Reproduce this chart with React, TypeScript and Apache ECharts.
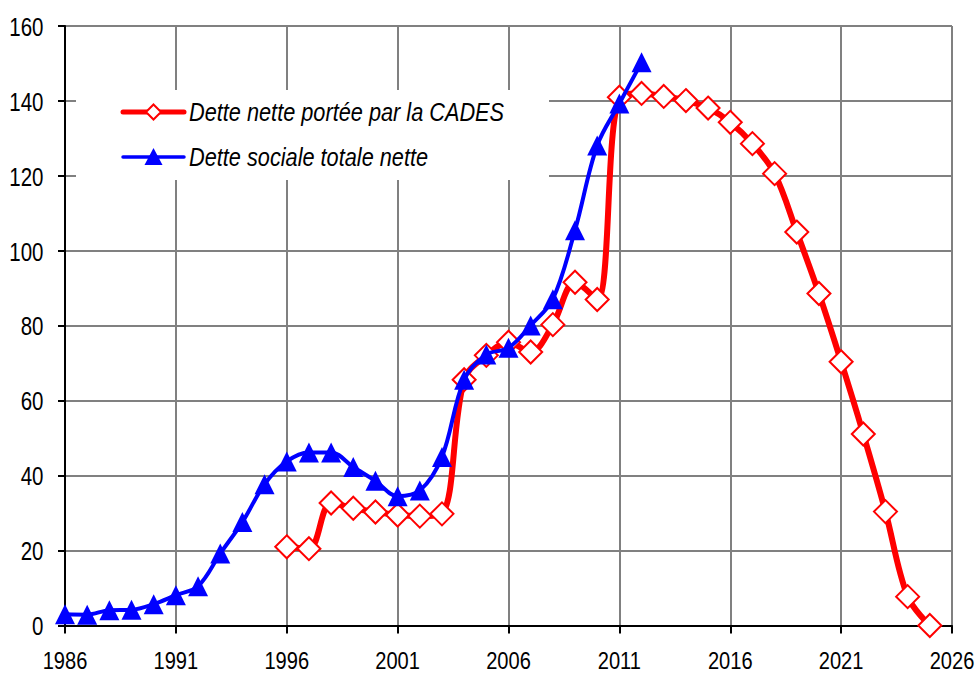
import React, { useEffect, useRef } from "react";
import * as echarts from "echarts";

const years = [
  "1986", "1987", "1988", "1989", "1990", "1991", "1992", "1993", "1994", "1995",
  "1996", "1997", "1998", "1999", "2000", "2001", "2002", "2003", "2004", "2005",
  "2006", "2007", "2008", "2009", "2010", "2011", "2012", "2013", "2014", "2015",
  "2016", "2017", "2018", "2019", "2020", "2021", "2022", "2023", "2024", "2025",
  "2026",
];
const xTickLabels = ["1986", "1991", "1996", "2001", "2006", "2011", "2016", "2021", "2026"];
const yTickLabels = [0, 20, 40, 60, 80, 100, 120, 140, 160];

const cadesName = "Dette nette portée par la CADES";
const cadesFirstYear = "1996";
const cadesValues = [
  21, 20.5, 32.7, 31.3, 30.3, 29.5, 29.2, 29.8, 65.6, 72.1,
  75.6, 73, 80.3, 91.6, 87, 141, 142, 141.2, 140.1, 138.1,
  134.3, 128.6, 120.6, 105, 88.6, 70.4, 51.1, 30.4, 7.7, 0,
];

const detteName = "Dette sociale totale nette";
const detteFirstYear = "1986";
const detteValues = [
  3, 2.9, 4.1, 4.2, 5.7, 8.1, 10.5, 19.2, 27.6, 37.7,
  43.8, 46.2, 46.2, 42.3, 38.6, 34.5, 36, 45, 65.6, 72.3,
  74.1, 80.1, 87.1, 105.5, 128.1, 139.3, 150.3,
];

function align(firstYear: string, values: number[]) {
  const start = years.indexOf(firstYear);
  return years.map((_, i) => {
    const k = i - start;
    return k >= 0 && k < values.length ? values[k] : null;
  });
}

const FONT = "'Liberation Sans', Arial, sans-serif";
const NARROW = 0.82; // emulate Arial Narrow
const GRID = "#808080";
const RED = "#ff0000";
const BLUE = "#0000ff";

export default function App() {
  const ref = useRef<HTMLDivElement>(null);
  useEffect(() => {
    if (!ref.current) return;
    const chart = echarts.init(ref.current, undefined, { renderer: "svg" });
    chart.setOption({
      animation: false,
      backgroundColor: "#fff",
      textStyle: { fontFamily: FONT },
      grid: { left: 65, right: 24, top: 26, bottom: 48.5, containLabel: false },
      xAxis: {
        type: "category",
        data: years,
        boundaryGap: false,
        axisLine: { lineStyle: { color: "#000", width: 2 } },
        axisTick: { interval: 4, length: 8, lineStyle: { color: "#000", width: 2 } },
        axisLabel: { show: false, interval: 4 },
        splitLine: { show: true, interval: 4, lineStyle: { color: GRID, width: 2 } },
      },
      yAxis: {
        type: "value",
        min: 0,
        max: 160,
        interval: 20,
        axisLine: { show: true, lineStyle: { color: "#000", width: 2 } },
        axisTick: { show: true, length: 7, lineStyle: { color: "#000", width: 2 } },
        axisLabel: { show: false },
        splitLine: { show: true, lineStyle: { color: GRID, width: 2 } },
      },
      series: [
        {
          name: cadesName,
          type: "line",
          data: align(cadesFirstYear, cadesValues),
          smooth: 0.35,
          connectNulls: false,
          showAllSymbol: true,
          symbol: "diamond",
          symbolSize: 23,
          lineStyle: { color: RED, width: 6 },
          itemStyle: { color: "#ffffff", borderColor: RED, borderWidth: 2 },
          z: 2,
        },
        {
          name: detteName,
          type: "line",
          data: align(detteFirstYear, detteValues),
          smooth: 0.35,
          connectNulls: false,
          showAllSymbol: true,
          symbol: "triangle",
          symbolSize: 20,
          lineStyle: { color: BLUE, width: 4 },
          itemStyle: { color: BLUE },
          z: 3,
        },
      ],
    });

    const labelStyle = { fontFamily: FONT, fontSize: 24.5, fill: "#000" };
    const graphics: any[] = [];
    xTickLabels.forEach((yr) => {
      const [px, py] = chart.convertToPixel({ xAxisIndex: 0, yAxisIndex: 0 }, [yr, 0]) as number[];
      graphics.push({
        type: "text",
        x: px,
        y: py + 35,
        scaleX: NARROW,
        silent: true,
        style: { ...labelStyle, text: yr, align: "center", verticalAlign: "middle" },
      });
    });
    yTickLabels.forEach((v) => {
      const [px, py] = chart.convertToPixel({ xAxisIndex: 0, yAxisIndex: 0 }, [years[0], v]) as number[];
      graphics.push({
        type: "text",
        x: px - 21.5,
        y: py + 1,
        scaleX: NARROW,
        silent: true,
        style: { ...labelStyle, fontSize: 25, text: String(v), align: "right", verticalAlign: "middle" },
      });
    });

    // Legend box (Excel style, no border)
    const lx = 76, ly = 90, lw = 473, lh = 90;
    const iconX0 = 123, iconX1 = 184, textX = 189;
    const rowY = [112, 157];
    const iconMid = (iconX0 + iconX1) / 2;
    graphics.push({
      type: "rect",
      z: 1,
      silent: true,
      shape: { x: lx, y: ly, width: lw, height: lh },
      style: { fill: "#fff" },
    });
    graphics.push({
      type: "line",
      z: 1,
      silent: true,
      shape: { x1: iconX0, y1: rowY[0], x2: iconX1, y2: rowY[0] },
      style: { stroke: RED, lineWidth: 5, lineCap: "round" },
    });
    graphics.push({
      type: "polygon",
      z: 1,
      silent: true,
      shape: {
        points: [
          [iconMid, rowY[0] - 7.5],
          [iconMid + 7.5, rowY[0]],
          [iconMid, rowY[0] + 7.5],
          [iconMid - 7.5, rowY[0]],
        ],
      },
      style: { fill: "#fff", stroke: RED, lineWidth: 2 },
    });
    graphics.push({
      type: "text",
      z: 1,
      silent: true,
      x: textX,
      y: rowY[0],
      scaleX: NARROW,
      style: {
        text: cadesName,
        fontFamily: FONT,
        fontSize: 26.5,
        fontStyle: "italic",
        fill: "#000",
        align: "left",
        verticalAlign: "middle",
      },
    });
    graphics.push({
      type: "line",
      z: 1,
      silent: true,
      shape: { x1: iconX0, y1: rowY[1], x2: iconX1, y2: rowY[1] },
      style: { stroke: BLUE, lineWidth: 3.5, lineCap: "round" },
    });
    graphics.push({
      type: "polygon",
      z: 1,
      silent: true,
      shape: {
        points: [
          [iconMid, rowY[1] - 9],
          [iconMid + 9, rowY[1] + 8],
          [iconMid - 9, rowY[1] + 8],
        ],
      },
      style: { fill: BLUE },
    });
    graphics.push({
      type: "text",
      z: 1,
      silent: true,
      x: textX,
      y: rowY[1],
      scaleX: NARROW,
      style: {
        text: detteName,
        fontFamily: FONT,
        fontSize: 26.5,
        fontStyle: "italic",
        fill: "#000",
        align: "left",
        verticalAlign: "middle",
      },
    });

    chart.setOption({ graphic: { elements: graphics } });
    return () => chart.dispose();
  }, []);
  return (
    <div
      ref={ref}
      style={{ position: "fixed", left: 0, top: 0, width: 976, height: 674 }}
    />
  );
}
